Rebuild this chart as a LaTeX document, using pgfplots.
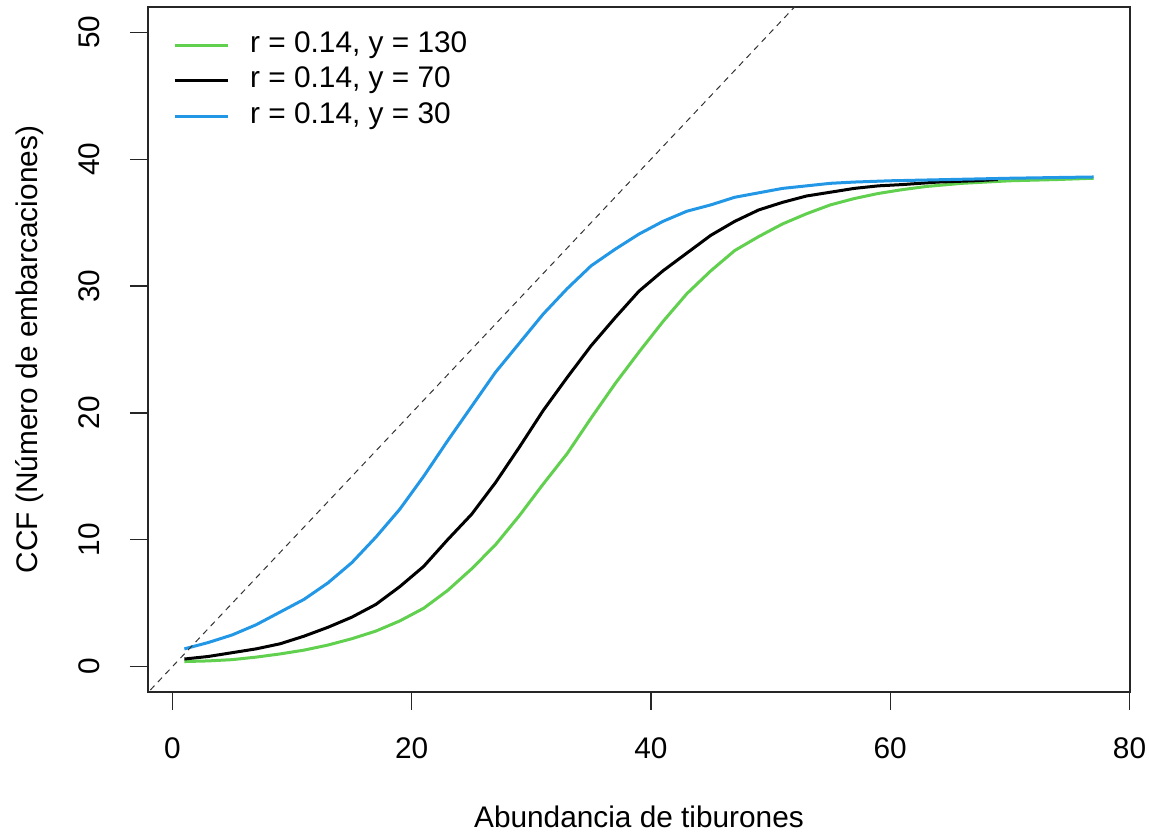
\documentclass[border=0pt]{standalone}
\usepackage{fontspec}
\setmainfont{Liberation Sans}
\usepackage{pgfplots}
\pgfplotsset{compat=1.18}
\definecolor{rgreen}{HTML}{61D04F}
\definecolor{rblue}{HTML}{2297E6}
\begin{document}
\begin{tikzpicture}
\useasboundingbox (-148pt,-145pt) rectangle (1001pt,692pt);
\begin{axis}[
  at={(0pt,0pt)}, anchor=south west,
  scale only axis, width=982pt, height=685pt,
  xmin=-2.04, xmax=80.04, ymin=-2, ymax=52,
  xtick={0,20,40,60,80}, ytick={0,10,20,30,40,50},
  xtick pos=bottom, ytick pos=left,
  tick align=outside, major tick length=18pt,
  axis line style={line width=1.4pt, black!85},
  every tick/.style={line width=1.4pt, black!85},
  /pgf/number format/assume math mode=true,
  tick label style={font=\fontsize{29.8}{30}\selectfont},
  xticklabel style={anchor=base, yshift=-48pt},
  yticklabel style={xshift=-30pt, rotate=90, anchor=base},
  every axis x label/.style={at={(axis description cs:0.5,0)}, yshift=-136pt, anchor=base, font=\fontsize{29.8}{30}\selectfont},
  every axis y label/.style={at={(axis description cs:0,0.5)}, xshift=-110pt, rotate=90, anchor=base, font=\fontsize{29.8}{30}\selectfont},
  xlabel={Abundancia de tiburones},
  ylabel={CCF (Número de embarcaciones)},
  legend style={draw=none, fill=none, at={(axis description cs:0.0255,0.965)}, anchor=north west,
    font=\fontsize{29.8}{30}\selectfont, inner sep=0pt, row sep=7pt, column sep=21pt,
    nodes={inner sep=0pt, text height=21pt, text depth=7.5pt}},
  legend cell align=left,
  legend image code/.code={\draw[#1] (0pt,0pt) -- (53pt,0pt);},
]
\addplot[rgreen, line width=3pt] coordinates {
(1,0.4) (3,0.45) (5,0.55) (7,0.75) (9,1.0) (11,1.3) (13,1.7) (15,2.2) (17,2.8) (19,3.6)
(21,4.6) (23,6.0) (25,7.7) (27,9.6) (29,11.9) (31,14.4) (33,16.8) (35,19.6) (37,22.3) (39,24.8)
(41,27.2) (43,29.4) (45,31.2) (47,32.8) (49,33.9) (51,34.9) (53,35.7) (55,36.4) (57,36.9) (59,37.3)
(61,37.6) (63,37.85) (66,38.1) (70,38.3) (74,38.4) (77,38.5)};
\addlegendentry{r = 0.14, y = 130}
\addplot[black, line width=3pt] coordinates {
(1,0.6) (3,0.8) (5,1.1) (7,1.4) (9,1.8) (11,2.4) (13,3.1) (15,3.9) (17,4.9) (19,6.3)
(21,7.9) (23,10.0) (25,12.0) (27,14.5) (29,17.3) (31,20.2) (33,22.8) (35,25.3) (37,27.5) (39,29.6)
(41,31.2) (43,32.6) (45,34.0) (47,35.1) (49,36.0) (51,36.6) (53,37.1) (55,37.4) (57,37.7) (59,37.9)
(61,38.0) (64,38.2) (67,38.3) (69,38.4)};
\addlegendentry{r = 0.14, y = 70}
\addplot[rblue, line width=3pt] coordinates {
(1,1.4) (3,1.9) (5,2.5) (7,3.3) (9,4.3) (11,5.3) (13,6.6) (15,8.2) (17,10.2) (19,12.4)
(21,15.0) (23,17.8) (25,20.5) (27,23.2) (29,25.5) (31,27.8) (33,29.8) (35,31.6) (37,32.9) (39,34.1)
(41,35.1) (43,35.9) (45,36.4) (47,37.0) (49,37.35) (51,37.7) (53,37.9) (55,38.1) (57,38.2) (60,38.3)
(65,38.4) (70,38.5) (77,38.6)};
\addlegendentry{r = 0.14, y = 30}
\addplot[black!80, line width=1pt, dash pattern=on 6pt off 5pt, forget plot] coordinates {(-5,-5) (60,60)};
\end{axis}
\end{tikzpicture}
\end{document}
